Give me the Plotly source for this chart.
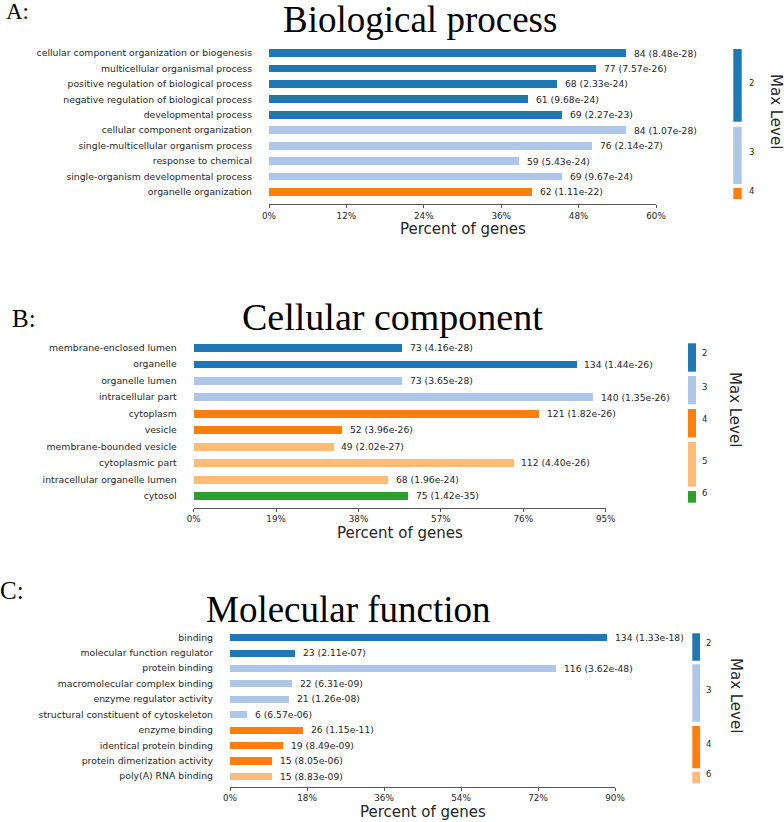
import plotly.graph_objects as go

W, H = 784, 822

# ---------------- data ----------------
bp_terms = [
    "cellular component organization or biogenesis",
    "multicellular organismal process",
    "positive regulation of biological process",
    "negative regulation of biological process",
    "developmental process",
    "cellular component organization",
    "single-multicellular organism process",
    "response to chemical",
    "single-organism developmental process",
    "organelle organization",
]
bp_counts = [84, 77, 68, 61, 69, 84, 76, 59, 69, 62]
bp_pvals = ["8.48e-28", "7.57e-26", "2.33e-24", "9.68e-24", "2.27e-23",
            "1.07e-28", "2.14e-27", "5.43e-24", "9.67e-24", "1.11e-22"]
bp_levels = [2, 2, 2, 2, 2, 3, 3, 3, 3, 4]
bp_percent = [55.3, 50.7, 44.7, 40.1, 45.4, 55.3, 50.0, 38.8, 45.4, 40.8]
bp_ticks = [0, 12, 24, 36, 48, 60]

cc_terms = [
    "membrane-enclosed lumen",
    "organelle",
    "organelle lumen",
    "intracellular part",
    "cytoplasm",
    "vesicle",
    "membrane-bounded vesicle",
    "cytoplasmic part",
    "intracellular organelle lumen",
    "cytosol",
]
cc_counts = [73, 134, 73, 140, 121, 52, 49, 112, 68, 75]
cc_pvals = ["4.16e-28", "1.44e-26", "3.65e-28", "1.35e-26", "1.82e-26",
            "3.96e-26", "2.02e-27", "4.40e-26", "1.96e-24", "1.42e-35"]
cc_levels = [2, 2, 3, 3, 4, 4, 5, 5, 5, 6]
cc_percent = [48.0, 88.2, 48.0, 92.1, 79.6, 34.2, 32.2, 73.7, 44.7, 49.3]
cc_ticks = [0, 19, 38, 57, 76, 95]

mf_terms = [
    "binding",
    "molecular function regulator",
    "protein binding",
    "macromolecular complex binding",
    "enzyme regulator activity",
    "structural constituent of cytoskeleton",
    "enzyme binding",
    "identical protein binding",
    "protein dimerization activity",
    "poly(A) RNA binding",
]
mf_counts = [134, 23, 116, 22, 21, 6, 26, 19, 15, 15]
mf_pvals = ["1.33e-18", "2.11e-07", "3.62e-48", "6.31e-09", "1.26e-08",
            "6.57e-06", "1.15e-11", "8.49e-09", "8.05e-06", "8.83e-09"]
mf_levels = [2, 2, 3, 3, 3, 3, 4, 4, 4, 6]
mf_percent = [88.2, 15.1, 76.3, 14.5, 13.8, 3.9, 17.1, 12.5, 9.9, 9.9]
mf_ticks = [0, 18, 36, 54, 72, 90]

palette = ["#1f77b4", "#aec7e8", "#ff7f0e", "#ffbb78", "#2ca02c"]

# ---------------- layout geometry (pixels) ----------------
def fx(p):
    return p / W

def fy(p):
    return 1 - p / H

panels = [
    dict(name="Biological process", tag="A:", terms=bp_terms, counts=bp_counts,
         pvals=bp_pvals, levels=bp_levels, pct=bp_percent, ticks=bp_ticks,
         xpx=(269, 656), ypx=(41, 204), yrange=[9.78, -0.78], barw=0.5,
         title_xy=(420, 19), title_size=37, tag_xy=(4, 11), tag_size=23,
         xtitle_y=229,
         leg_x=(733.3, 741.7),
         leg_seg=[(49, 121.7), (126.7, 184), (188, 199)],
         leg_lab_x=747, leg_lab_y=[82.7, 151.7, 190.7],
         maxlev_xy=(776, 111)),
    dict(name="Cellular component", tag="B:", terms=cc_terms, counts=cc_counts,
         pvals=cc_pvals, levels=cc_levels, pct=cc_percent, ticks=cc_ticks,
         xpx=(193.7, 605.7), ypx=(335.7, 507.7), yrange=[9.73, -0.73], barw=0.48,
         title_xy=(392.5, 317), title_size=38, tag_xy=(10, 318), tag_size=25,
         xtitle_y=533,
         leg_x=(688, 696),
         leg_seg=[(343.3, 371.7), (376, 404.3), (409, 437.3), (441.7, 486.7), (491, 502.7)],
         leg_lab_x=700, leg_lab_y=[353.3, 387.3, 419, 461, 493.3],
         maxlev_xy=(735, 409)),
    dict(name="Molecular function", tag="C:", terms=mf_terms, counts=mf_counts,
         pvals=mf_pvals, levels=mf_levels, pct=mf_percent, ticks=mf_ticks,
         xpx=(230, 615), ypx=(626.7, 786.7), yrange=[9.69, -0.69], barw=0.46,
         title_xy=(348.5, 609), title_size=37, tag_xy=(-2, 590), tag_size=25,
         xtitle_y=812,
         leg_x=(692.3, 700),
         leg_seg=[(633.3, 660.7), (664.3, 721.7), (726, 768.3), (771.7, 783.3)],
         leg_lab_x=704, leg_lab_y=[643.3, 690, 744, 774.3],
         maxlev_xy=(736, 695)),
]

LABEL_FONT = "DejaVu Sans"
SERIF = "Liberation Serif"
TXT = "#262626"
AX = "#555555"

fig = go.Figure()
annotations = []
shapes = []

for i, p in enumerate(panels):
    sfx = "" if i == 0 else str(i + 1)
    xa, ya = "x" + sfx, "y" + sfx
    uniq = []
    for lv in p["levels"]:
        if lv not in uniq:
            uniq.append(lv)
    cmap = {lv: palette[k] for k, lv in enumerate(uniq)}
    colors = [cmap[lv] for lv in p["levels"]]

    fig.add_trace(go.Bar(
        x=p["pct"], y=p["terms"], orientation="h",
        marker=dict(color=colors, line=dict(width=0)),
        width=p["barw"], xaxis=xa, yaxis=ya, showlegend=False,
        hoverinfo="skip",
    ))

    fig.update_layout(**{
        "xaxis" + sfx: dict(
            domain=[fx(p["xpx"][0]), fx(p["xpx"][1])],
            range=[0, p["ticks"][-1]], anchor=ya, automargin=False,
            tickvals=p["ticks"], ticktext=[f"{t}%" for t in p["ticks"]],
            showgrid=False, zeroline=False, showline=True, linecolor=AX, linewidth=1,
            ticks="outside", ticklen=3, tickcolor=AX, tickwidth=1,
            tickfont=dict(family=LABEL_FONT, size=8.8, color=TXT),
        ),
        "yaxis" + sfx: dict(
            domain=[fy(p["ypx"][1]), fy(p["ypx"][0])],
            type="category", categoryorder="array", categoryarray=p["terms"],
            range=p["yrange"], anchor=xa, automargin=False,
            showgrid=False, zeroline=False, showline=False, ticks="",
            ticklabelstandoff=16,
            tickfont=dict(family=LABEL_FONT, size=9.3, color=TXT),
        ),
    })

    for term, v, c, pv in zip(p["terms"], p["pct"], p["counts"], p["pvals"]):
        annotations.append(dict(
            x=v, y=term, xref=xa, yref=ya, text=f"{c} ({pv})",
            showarrow=False, xanchor="left", yanchor="middle", xshift=6,
            font=dict(family=LABEL_FONT, size=9.2, color=TXT),
        ))

    # titles
    annotations.append(dict(
        x=fx(p["title_xy"][0]), y=fy(p["title_xy"][1]), xref="paper", yref="paper",
        text=p["name"], showarrow=False, xanchor="center", yanchor="middle",
        font=dict(family=SERIF, size=p["title_size"], color="#000000"),
    ))
    annotations.append(dict(
        x=fx(p["tag_xy"][0]), y=fy(p["tag_xy"][1]), xref="paper", yref="paper",
        text=p["tag"], showarrow=False, xanchor="left", yanchor="middle",
        font=dict(family=SERIF, size=p["tag_size"], color="#000000"),
    ))
    annotations.append(dict(
        x=fx((p["xpx"][0] + p["xpx"][1]) / 2), y=fy(p["xtitle_y"]),
        xref="paper", yref="paper", text="Percent of genes", showarrow=False,
        xanchor="center", yanchor="middle",
        font=dict(family=LABEL_FONT, size=15, color=TXT),
    ))

    # level key
    for lv, (y0, y1), ly in zip(uniq, p["leg_seg"], p["leg_lab_y"]):
        shapes.append(dict(
            type="rect", xref="paper", yref="paper",
            x0=fx(p["leg_x"][0]), x1=fx(p["leg_x"][1]), y0=fy(y1), y1=fy(y0),
            fillcolor=cmap[lv], line=dict(width=0), layer="above",
        ))
        annotations.append(dict(
            x=fx(p["leg_lab_x"]), y=fy(ly), xref="paper", yref="paper",
            text=str(lv), showarrow=False, xanchor="left", yanchor="middle",
            font=dict(family=LABEL_FONT, size=8.5, color=TXT),
        ))
    annotations.append(dict(
        x=fx(p["maxlev_xy"][0]), y=fy(p["maxlev_xy"][1]), xref="paper", yref="paper",
        text="Max Level", showarrow=False, textangle=90,
        xanchor="center", yanchor="middle",
        font=dict(family=LABEL_FONT, size=15, color=TXT),
    ))

fig.update_layout(
    width=W, height=H, margin=dict(l=0, r=0, t=0, b=0, pad=0, autoexpand=False),
    paper_bgcolor="white", plot_bgcolor="white",
    annotations=annotations, shapes=shapes, bargap=0,
)

fig.write_html("out.html",
               config={"displayModeBar": False},
               post_script="document.body.style.margin='0px';document.body.style.overflow='hidden';")
